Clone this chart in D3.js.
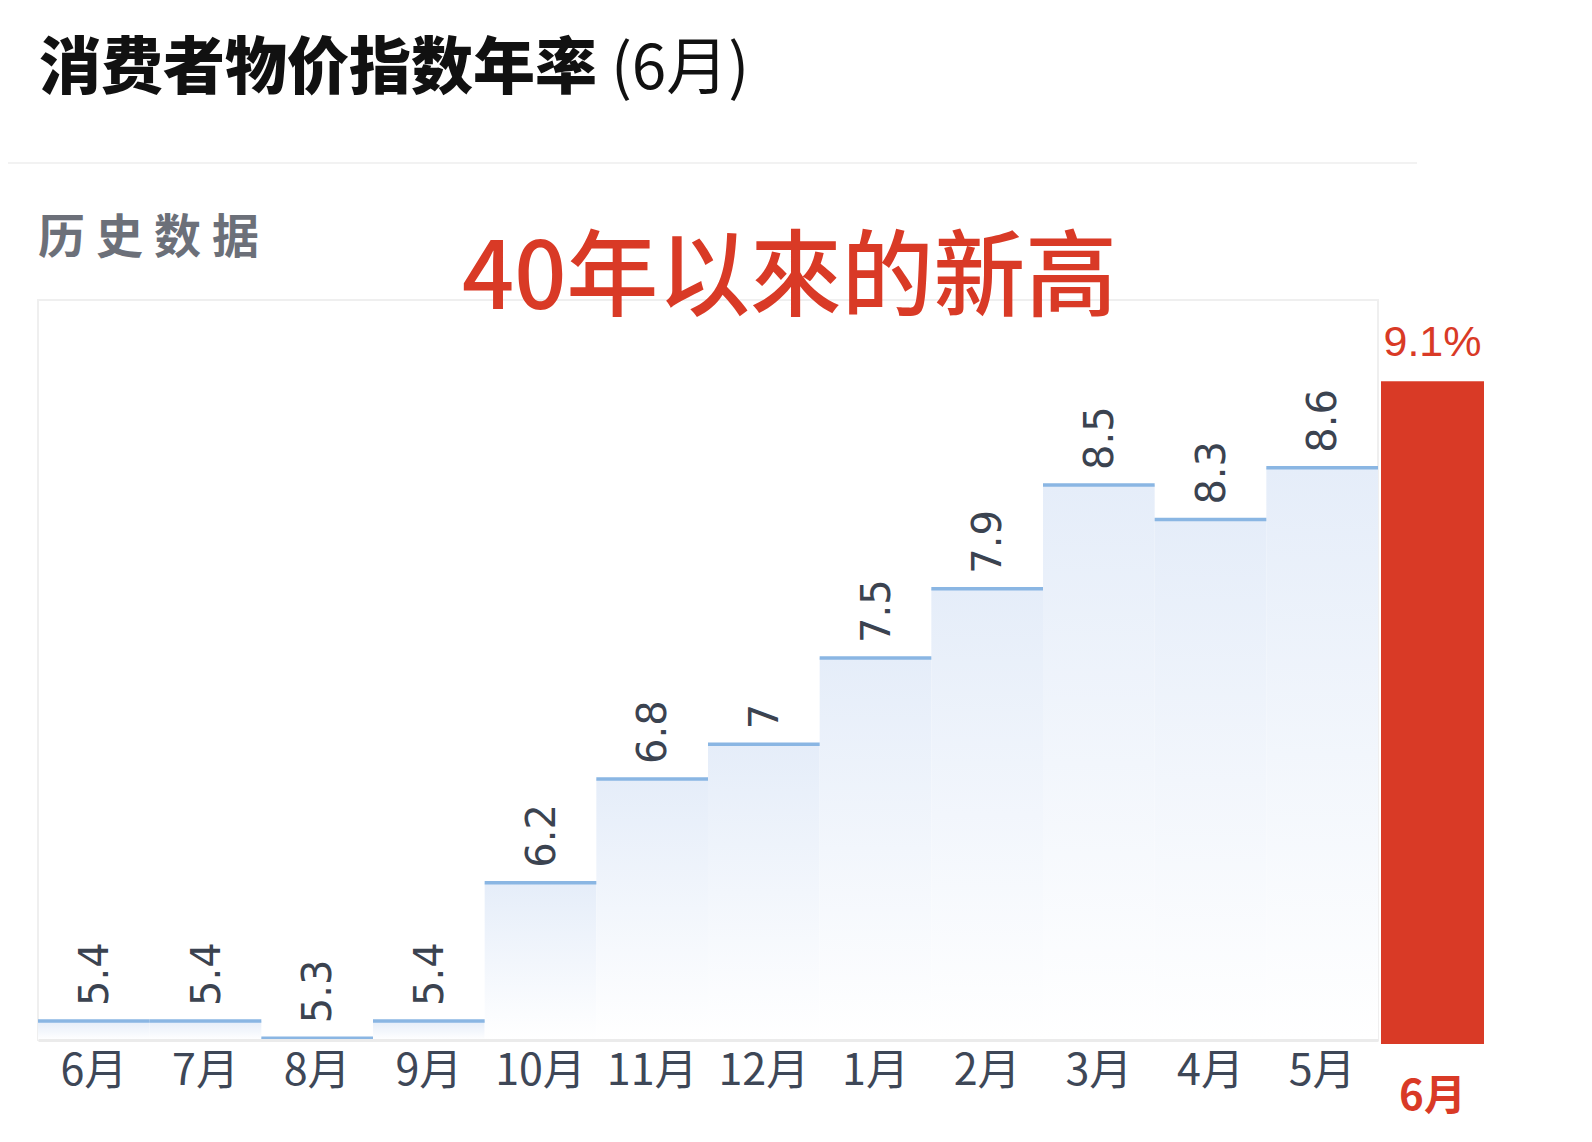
<!DOCTYPE html>
<html lang="zh">
<head>
<meta charset="UTF-8">
<title>消费者物价指数年率</title>
<style>
  html, body { margin: 0; padding: 0; background: #fff; }
  svg { display: block; }
</style>
</head>
<body>
<svg id="chart" width="1592" height="1142"></svg>
<script src="https://d3js.org/d3.v7.min.js"></script>
<script>
// 历史数据 (过去12个月)
var months = ["6月", "7月", "8月", "9月", "10月", "11月", "12月", "1月", "2月", "3月", "4月", "5月"];
var values = [5.4, 5.4, 5.3, 5.4, 6.2, 6.8, 7, 7.5, 7.9, 8.5, 8.3, 8.6];
// 本月
var latestMonth = "6月";
var latestValue = 9.1;

var svg = d3.select("#chart");
var cjk = "'Noto Sans CJK SC', 'Noto Sans', sans-serif";

// 渐变填充
var defs = svg.append("defs");
var grad = defs.append("linearGradient")
  .attr("id", "stepFill")
  .attr("x1", 0).attr("y1", 0).attr("x2", 0).attr("y2", 1);
grad.append("stop").attr("offset", "0%").attr("stop-color", "#e5edf9");
grad.append("stop").attr("offset", "100%").attr("stop-color", "#ffffff");

// 标题
var title = svg.append("text")
  .attr("x", 39).attr("y", 89)
  .style("font-family", cjk)
  .style("font-size", "62px")
  .style("fill", "#111");
title.append("tspan").style("font-weight", 900).text("消费者物价指数年率");
title.append("tspan").style("font-weight", 400).text(" (6月)");

svg.append("line")
  .attr("x1", 8).attr("x2", 1417)
  .attr("y1", 163).attr("y2", 163)
  .attr("stroke", "#f2f2f2").attr("stroke-width", 2);

svg.append("text")
  .attr("x", 38).attr("y", 253)
  .style("font-family", cjk)
  .style("font-size", "47px")
  .style("font-weight", 700)
  .style("letter-spacing", "11px")
  .style("fill", "#6c7079")
  .text("历史数据");

// 坐标
var plot = { left: 38, right: 1378, top: 300, bottom: 1040 };

var x = d3.scaleBand()
  .domain(months)
  .range([plot.left, plot.right])
  .padding(0);

var y = d3.scaleLinear()
  .domain([5.29, 9.57])
  .range([plot.bottom, plot.top]);

// 背景框
svg.append("rect")
  .attr("x", plot.left).attr("y", plot.top)
  .attr("width", plot.right - plot.left)
  .attr("height", plot.bottom - plot.top)
  .attr("fill", "none")
  .attr("stroke", "#efefef")
  .attr("stroke-width", 2);

// 填充
svg.selectAll("rect.fill")
  .data(values)
  .enter()
  .append("rect")
  .attr("class", "fill")
  .attr("x", function(d, i) { return x(months[i]); })
  .attr("y", function(d) { return y(d); })
  .attr("width", x.bandwidth())
  .attr("height", function(d) { return plot.bottom - y(d); })
  .attr("fill", "url(#stepFill)");

// 阶梯线
svg.selectAll("line.step")
  .data(values)
  .enter()
  .append("line")
  .attr("class", "step")
  .attr("x1", function(d, i) { return x(months[i]); })
  .attr("x2", function(d, i) { return x(months[i]) + x.bandwidth(); })
  .attr("y1", function(d) { return y(d); })
  .attr("y2", function(d) { return y(d); })
  .attr("stroke", "#8ab6e3")
  .attr("stroke-width", 3.5);

// x轴
var xAxis = svg.append("g")
  .attr("transform", "translate(0," + plot.bottom + ")")
  .call(d3.axisBottom(x).tickSize(0).tickPadding(14));
xAxis.select(".domain").attr("stroke", "#ebebeb").attr("stroke-width", 3);
xAxis.selectAll("text")
  .style("font-family", cjk)
  .style("font-size", "43px")
  .style("fill", "#3e4757")
  .attr("dy", "0.71em");

// 数值标签 (竖排)
svg.selectAll("text.val")
  .data(values)
  .enter()
  .append("text")
  .attr("class", "val")
  .attr("transform", function(d, i) {
    var cx = x(months[i]) + x.bandwidth() / 2;
    return "translate(" + (cx + 14) + "," + (y(d) - 15) + ") rotate(-90)";
  })
  .style("font-family", "'DejaVu Sans', sans-serif")
  .style("font-size", "40px")
  .style("fill", "#3b4350")
  .text(function(d) { return d; });

// 本月红柱
var barLeft = 1381, barRight = 1484;
svg.append("rect")
  .attr("x", barLeft)
  .attr("y", y(latestValue))
  .attr("width", barRight - barLeft)
  .attr("height", 1044 - y(latestValue))
  .attr("fill", "#d93a26");

svg.append("text")
  .attr("x", (barLeft + barRight) / 2)
  .attr("y", 356)
  .attr("text-anchor", "middle")
  .style("font-family", "'Liberation Sans', Arial, sans-serif")
  .style("font-size", "43px")
  .style("font-weight", 500)
  .style("fill", "#d93a26")
  .text(latestValue + "%");

svg.append("text")
  .attr("x", (barLeft + barRight) / 2)
  .attr("y", 1110)
  .attr("text-anchor", "middle")
  .style("font-family", cjk)
  .style("font-size", "42px")
  .style("font-weight", 700)
  .style("fill", "#d93a26")
  .text(latestMonth);

// 注释
svg.append("text")
  .attr("x", 462).attr("y", 309)
  .attr("textLength", 655)
  .attr("lengthAdjust", "spacingAndGlyphs")
  .style("font-family", cjk)
  .style("font-size", "94px")
  .style("font-weight", 500)
  .style("fill", "#d93a26")
  .text("40年以來的新高");
</script>
</body>
</html>
